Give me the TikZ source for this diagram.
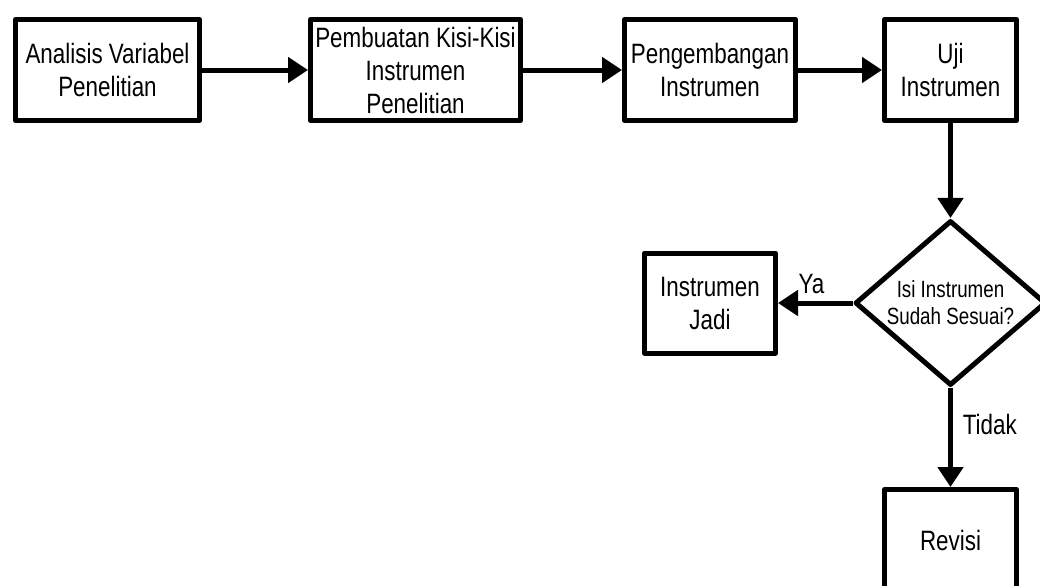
\documentclass[tikz,border=0pt]{standalone}
\usepackage{fontspec}
\setmainfont{Liberation Sans}[FakeStretch=0.8]
\usetikzlibrary{arrows.meta,shapes.geometric}

\begin{document}
\begin{tikzpicture}[x=.75pt,y=-.75pt,line join=round,
    box/.style={draw,line width=3.75pt,align=center,inner sep=0pt,
      minimum height=75.75pt,font=\fontsize{21}{24.75}\selectfont},
    decision/.style={draw,diamond,line width=3.75pt,align=center,inner sep=0pt,
      aspect=1.158,minimum width=143.25pt,minimum height=123.75pt,
      font=\fontsize{17.6}{20.25}\selectfont},
    flow/.style={line width=3.75pt,-{Triangle[length=15pt,width=18.75pt]}},
    lbl/.style={font=\fontsize{21}{24.75}\selectfont}]
  \useasboundingbox (0,0) rectangle (1040,586);
  \clip (0,0) rectangle (1040,586);

  % top row
  \node[box,minimum width=138pt] (analisis) at (107.5,70) {Analisis Variabel\\Penelitian};
  \node[box,minimum width=157.5pt] (kisi) at (415.5,70) {Pembuatan Kisi-Kisi\\Instrumen\\Penelitian};
  \node[box,minimum width=128.25pt] (kembang) at (710,70) {Pengembangan\\Instrumen};
  \node[box,minimum width=99pt] (uji) at (950.5,70) {Uji\\Instrumen};

  % decision and outcomes
  \node[decision] (sesuai) at (950.5,303) {Isi Instrumen\\Sudah Sesuai?};
  \node[box,minimum width=98.25pt,minimum height=75pt] (jadi) at (710,303) {Instrumen\\Jadi};
  \node[box,minimum width=99pt] (revisi) at (950.5,540) {Revisi};

  \draw[flow] (analisis) -- (kisi);
  \draw[flow] (kisi) -- (kembang);
  \draw[flow] (kembang) -- (uji);
  \draw[flow] (uji) -- (sesuai);
  \draw[flow] (sesuai) -- node[lbl,above=2pt,pos=.55] {Ya} (jadi);
  \draw[flow] (sesuai) -- node[lbl,right=4pt,pos=.37] {Tidak} (revisi);
\end{tikzpicture}
\end{document}
